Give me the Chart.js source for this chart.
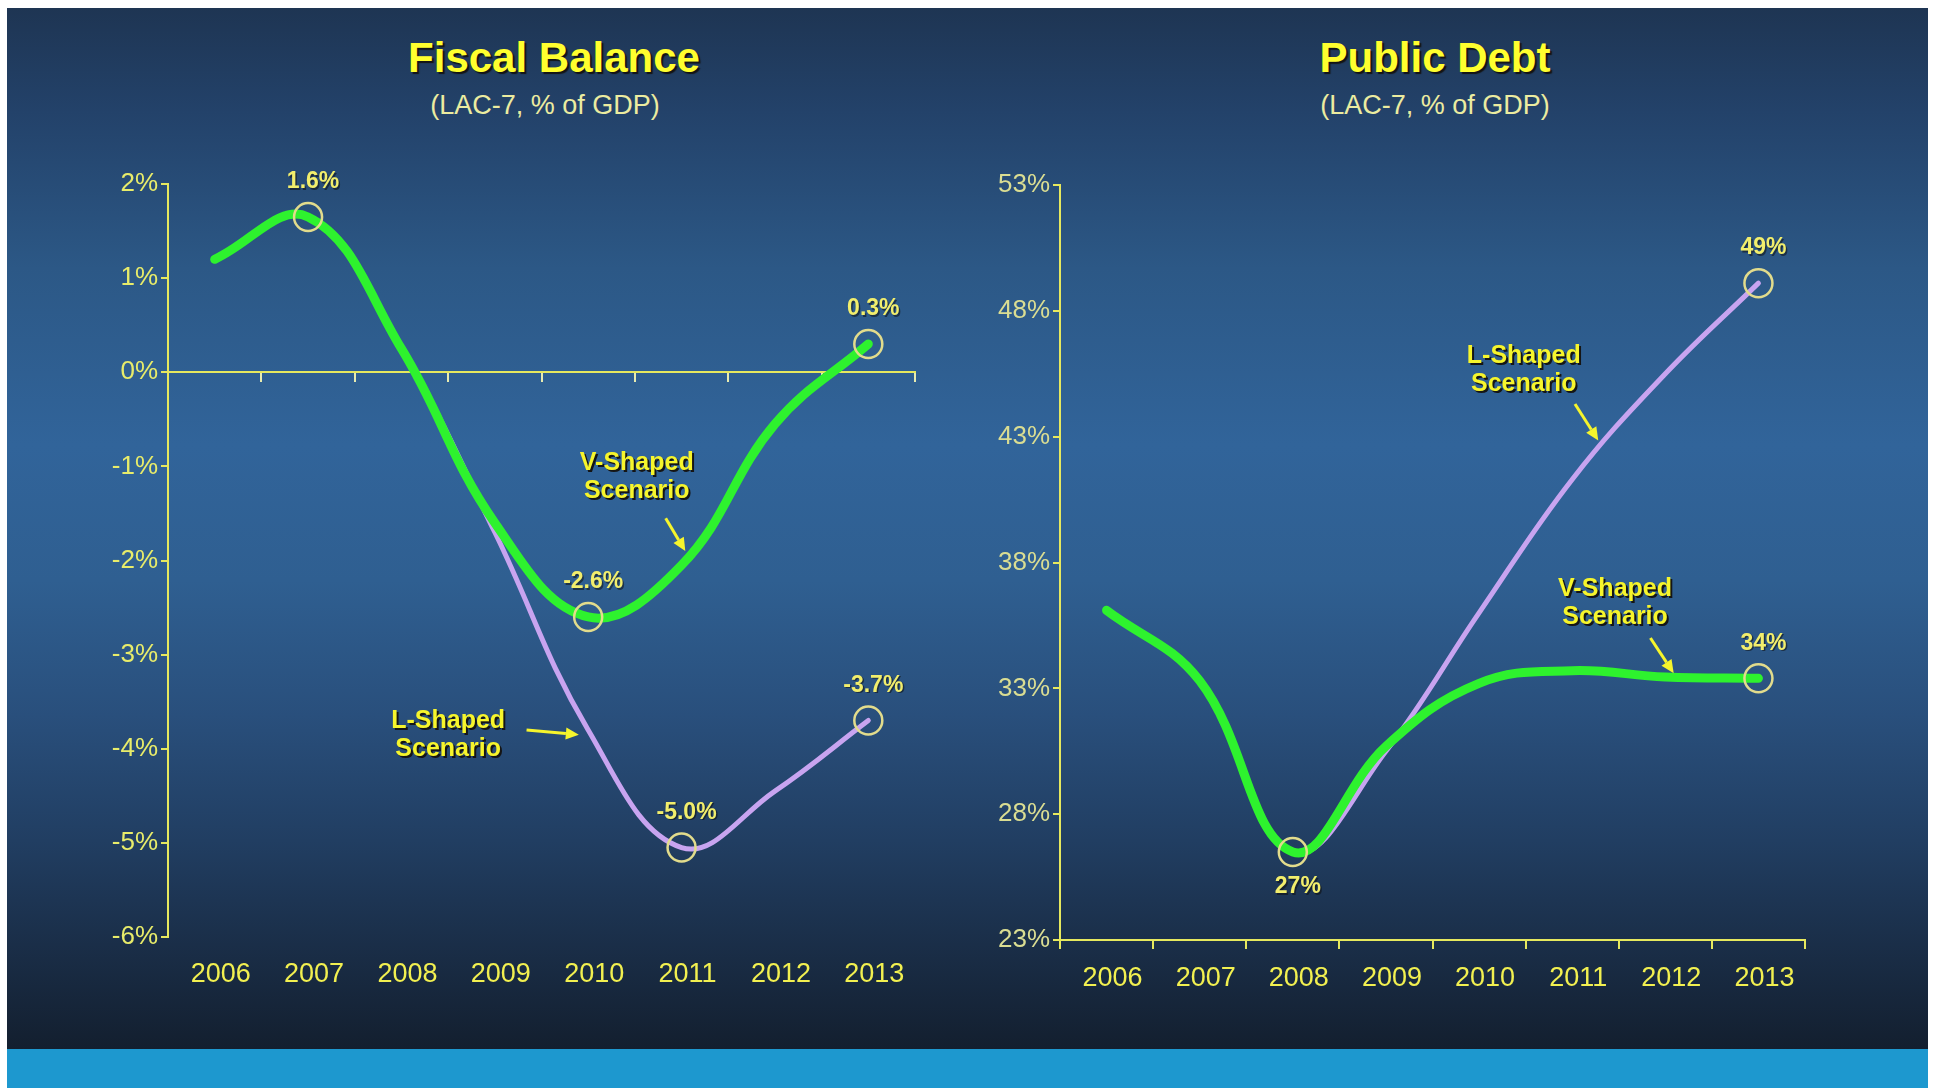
<!DOCTYPE html>
<html>
<head>
<meta charset="utf-8">
<title>Fiscal Balance and Public Debt</title>
<script src="https://cdn.jsdelivr.net/npm/chart.js@4.4.1/dist/chart.umd.min.js"></script>
<style>
  html, body { margin: 0; padding: 0; background: #fff; }
  body { width: 1933px; height: 1088px; position: relative; overflow: hidden;
         font-family: 'Liberation Sans', Arial, sans-serif; }
  #panel { position: absolute; left: 7px; top: 8px; width: 1921px; height: 1041px;
           background: linear-gradient(to bottom, #1e3553 0%, #23426a 10%, #2c5886 25%, #31649a 42%,
                       #2f5f91 55%, #294f7c 68%, #213e62 80%, #1a2e48 90%, #131f2f 100%); }
  #band { position: absolute; left: 7px; top: 1049px; width: 1921px; height: 39px; background: #1d98cf; }
  .title { position: absolute; width: 600px; text-align: center; color: #ffff2e; font-weight: bold;
           font-size: 42px; line-height: 48px; text-shadow: 2px 2px 1px #141414; }
  .sub { position: absolute; width: 600px; text-align: center; color: #ececa0;
         font-size: 27px; line-height: 30px; }
  canvas { position: absolute; }
</style>
</head>
<body>
<div id="panel"></div>
<div id="band"></div>
<div class="title" style="left:254px;top:34px">Fiscal Balance</div>
<div class="sub" style="left:245px;top:90px">(LAC-7, % of GDP)</div>
<div class="title" style="left:1135px;top:34px">Public Debt</div>
<div class="sub" style="left:1135px;top:90px">(LAC-7, % of GDP)</div>
<canvas id="fiscal" width="960" height="880" style="left:0;top:140px"></canvas>
<canvas id="debt" width="973" height="880" style="left:960px;top:140px"></canvas>
<script>
// data
const years = ['2006', '2007', '2008', '2009', '2010', '2011', '2012', '2013'];

const fiscalV = [1.2, 1.65, 0.25, -1.6, -2.6, -2.05, -0.55, 0.3];
const fiscalL = [1.2, 1.65, 0.25, -1.7, -3.8, -5.05, -4.45, -3.7];
const fiscalVLabels = ['', '1.6%', '', '', '-2.6%', '', '', '0.3%'];
const fiscalLLabels = ['', '', '', '', '', '-5.0%', '', '-3.7%'];
const fiscalTicks = [2, 1, 0, -1, -2, -3, -4, -5, -6];

const debtV = [36.1, 33.3, 26.5, 30.7, 33.2, 33.7, 33.45, 33.4];
const debtL = [36.1, 33.3, 26.5, 30.5, 36.0, 41.3, 45.5, 49.1];
const debtVLabels = ['', '', '27%', '', '', '', '', '34%'];
const debtLLabels = ['', '', '', '', '', '', '', '49%'];
const debtTicks = [53, 48, 43, 38, 33, 28, 23];

const GREEN = '#2ef22e';
const PURPLE = '#c8a4f0';
const RING = '#e2dc8c';
const AXIS = '#e6e85e';
const YELLOW = '#f6f52c';
const FONT = "'Liberation Sans', Arial, sans-serif";

Chart.defaults.font.family = FONT;

// value labels next to the ringed points, and the scenario call-outs with arrows
const callouts = {
  id: 'callouts',
  afterDatasetsDraw(chart, args, opts) {
    const ctx = chart.ctx;
    const xs = chart.scales.x, ys = chart.scales.y;
    ctx.save();
    ctx.textAlign = 'center';
    ctx.textBaseline = 'middle';

    chart.data.datasets.forEach((ds, i) => {
      const meta = chart.getDatasetMeta(i);
      (ds.valueLabels || []).forEach((txt, j) => {
        if (!txt) return;
        const pt = meta.data[j];
        const below = (ds.labelsBelow || []).includes(j);
        const tx = pt.x + 5, ty = pt.y + (below ? 35 : -35);
        ctx.font = 'bold 23px ' + FONT;
        ctx.fillStyle = 'rgba(15,15,15,0.55)';
        ctx.fillText(txt, tx + 1.5, ty + 1.5);
        ctx.fillStyle = '#f2ee6c';
        ctx.fillText(txt, tx, ty);
      });
    });

    (opts.notes || []).forEach(n => {
      const px = xs.getPixelForValue(n.x), py = ys.getPixelForValue(n.y);
      ctx.font = 'bold 25px ' + FONT;
      n.text.forEach((line, k) => {
        ctx.fillStyle = '#151515';
        ctx.fillText(line, px + 2, py + k * 28 + 2);
        ctx.fillStyle = YELLOW;
        ctx.fillText(line, px, py + k * 28);
      });
      const [ax1, ay1, ax2, ay2] = n.arrow;
      const x1 = xs.getPixelForValue(ax1), y1 = ys.getPixelForValue(ay1);
      const x2 = xs.getPixelForValue(ax2), y2 = ys.getPixelForValue(ay2);
      const ang = Math.atan2(y2 - y1, x2 - x1);
      const head = 13;
      ctx.strokeStyle = YELLOW;
      ctx.fillStyle = YELLOW;
      ctx.lineWidth = 3;
      ctx.beginPath();
      ctx.moveTo(x1, y1);
      ctx.lineTo(x2 - head * Math.cos(ang), y2 - head * Math.sin(ang));
      ctx.stroke();
      ctx.beginPath();
      ctx.moveTo(x2, y2);
      ctx.lineTo(x2 - head * Math.cos(ang) + 6 * Math.sin(ang), y2 - head * Math.sin(ang) - 6 * Math.cos(ang));
      ctx.lineTo(x2 - head * Math.cos(ang) - 6 * Math.sin(ang), y2 - head * Math.sin(ang) + 6 * Math.cos(ang));
      ctx.closePath();
      ctx.fill();
    });
    ctx.restore();
  }
};

function lineSet(label, data, color, width, valueLabels, labelsBelow) {
  return {
    label: label,
    data: data,
    borderColor: color,
    borderWidth: width,
    borderCapStyle: 'round',
    borderJoinStyle: 'round',
    tension: 0.4,
    fill: false,
    clip: false,
    valueLabels: valueLabels,
    labelsBelow: labelsBelow || [],
    pointRadius: valueLabels.map(t => t ? 14 : 0),
    pointHoverRadius: valueLabels.map(t => t ? 14 : 0),
    pointBorderColor: RING,
    pointBackgroundColor: 'rgba(0,0,0,0)',
    pointBorderWidth: 2.5
  };
}

// Fiscal Balance
new Chart(document.getElementById('fiscal'), {
  type: 'line',
  data: {
    labels: years,
    datasets: [
      lineSet('V-Shaped Scenario', fiscalV, GREEN, 9, fiscalVLabels),
      lineSet('L-Shaped Scenario', fiscalL, PURPLE, 5, fiscalLLabels)
    ]
  },
  options: {
    responsive: false,
    animation: false,
    events: [],
    layout: { padding: { top: 44, right: 45, bottom: 0, left: 0 } },
    plugins: {
      legend: { display: false },
      tooltip: { enabled: false },
      callouts: {
        notes: [
          { text: ['V-Shaped', 'Scenario'], x: 4.52, y: -0.96, arrow: [4.83, -1.55, 5.04, -1.9] },
          { text: ['L-Shaped', 'Scenario'], x: 2.5, y: -3.71, arrow: [3.34, -3.8, 3.9, -3.85] }
        ]
      }
    },
    scales: {
      x: {
        type: 'category',
        offset: true,
        position: { y: 0 },
        grid: { offset: true, drawOnChartArea: false, drawTicks: true, tickLength: 9, color: '#e8ecb0', lineWidth: 2 },
        border: { color: AXIS, width: 2 },
        ticks: { display: false }
      },
      x2: {
        type: 'category',
        offset: true,
        position: 'bottom',
        grid: { display: false, drawTicks: false },
        border: { display: false },
        ticks: { color: '#f2f050', font: { size: 27 }, padding: 21, labelOffset: 6 },
        afterFit: s => { s.height = 83; }
      },
      y: {
        min: Math.min(...fiscalTicks),
        max: Math.max(...fiscalTicks),
        afterBuildTicks: s => { s.ticks = fiscalTicks.map(v => ({ value: v })); },
        grid: { drawOnChartArea: false, drawTicks: true, tickLength: 7, color: AXIS, lineWidth: 2 },
        border: { color: AXIS, width: 2 },
        ticks: { color: '#e8ec6a', font: { size: 26 }, padding: 3, callback: v => v + '%' },
        afterFit: s => { s.width = 168; }
      }
    }
  },
  plugins: [callouts]
});

// Public Debt
new Chart(document.getElementById('debt'), {
  type: 'line',
  data: {
    labels: years,
    datasets: [
      lineSet('V-Shaped Scenario', debtV, GREEN, 9, debtVLabels, [2]),
      lineSet('L-Shaped Scenario', debtL, PURPLE, 5, debtLLabels)
    ]
  },
  options: {
    responsive: false,
    animation: false,
    events: [],
    layout: { padding: { top: 45, right: 128, bottom: 0, left: 0 } },
    plugins: {
      legend: { display: false },
      tooltip: { enabled: false },
      callouts: {
        notes: [
          { text: ['L-Shaped', 'Scenario'], x: 4.48, y: 46.2, arrow: [5.03, 44.3, 5.28, 42.85] },
          { text: ['V-Shaped', 'Scenario'], x: 5.46, y: 36.96, arrow: [5.84, 35.0, 6.09, 33.6] }
        ]
      }
    },
    scales: {
      x: {
        type: 'category',
        offset: true,
        grid: { offset: true, drawOnChartArea: false, drawTicks: true, tickLength: 9, color: AXIS, lineWidth: 2 },
        border: { color: AXIS, width: 2 },
        ticks: { color: '#f2f050', font: { size: 27 }, padding: 13, labelOffset: 6 },
        afterFit: s => { s.height = 80; }
      },
      y: {
        min: Math.min(...debtTicks),
        max: Math.max(...debtTicks),
        afterBuildTicks: s => { s.ticks = debtTicks.map(v => ({ value: v })); },
        grid: { drawOnChartArea: false, drawTicks: true, tickLength: 7, color: AXIS, lineWidth: 2 },
        border: { color: AXIS, width: 2 },
        ticks: { color: '#dadd92', font: { size: 26 }, padding: 3, callback: v => v + '%' },
        afterFit: s => { s.width = 100; }
      }
    }
  },
  plugins: [callouts]
});
</script>
</body>
</html>
